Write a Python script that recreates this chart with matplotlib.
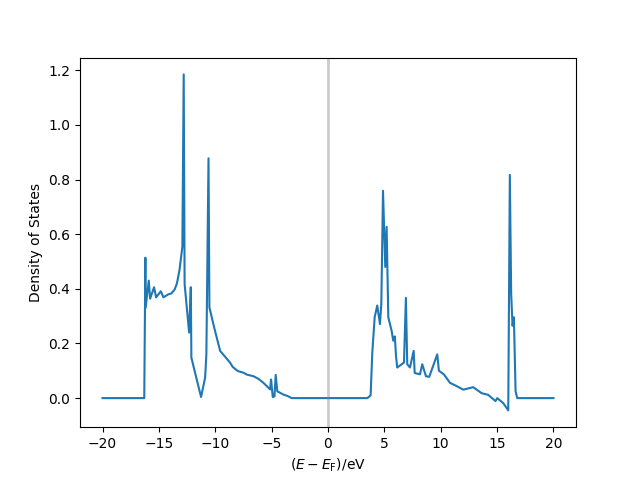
import matplotlib
matplotlib.use("Agg")
import matplotlib.pyplot as plt

# energies relative to the Fermi level (eV) and density of states
energy = [-20.0, -16.3, -16.2, -16.18, -15.9, -15.78, -15.43, -15.25, -14.83, -14.6,
          -14.16, -13.9, -13.6, -13.4, -13.17, -12.92, -12.8, -12.72, -12.32, -12.17,
          -12.12, -11.26, -10.9, -10.79, -10.6, -10.52, -10.1, -9.57, -8.69, -8.45,
          -8.0, -7.5, -7.2, -6.6, -6.15, -5.73, -5.29, -5.14, -5.05, -4.9,
          -4.75, -4.64, -4.5, -3.96, -3.6, -3.22,
          3.49, 3.78, 3.93, 4.14, 4.37, 4.61, 4.73, 4.88, 5.08, 5.2,
          5.35, 5.64, 5.79, 5.93, 6.03, 6.14, 6.74, 6.91, 7.03, 7.27,
          7.6, 7.69, 8.16, 8.36, 8.69, 8.98, 9.69, 9.84, 10.28, 10.82,
          11.41, 12.0, 12.88, 13.63, 14.21, 14.86, 15.01, 15.54, 15.99, 16.13,
          16.25, 16.37, 16.49, 16.64, 16.79, 20.0]
dos = [0.0, 0.0, 0.514, 0.33, 0.43, 0.364, 0.406, 0.369, 0.391, 0.369,
       0.38, 0.383, 0.398, 0.42, 0.47, 0.554, 1.185, 0.418, 0.24, 0.406,
       0.148, 0.004, 0.075, 0.16, 0.878, 0.332, 0.259, 0.173, 0.13, 0.114,
       0.099, 0.093, 0.086, 0.08, 0.07, 0.056, 0.038, 0.032, 0.068, 0.004,
       0.006, 0.085, 0.025, 0.013, 0.008, 0.0,
       0.0, 0.01, 0.167, 0.296, 0.339, 0.271, 0.345, 0.759, 0.48, 0.627,
       0.296, 0.247, 0.21, 0.226, 0.155, 0.112, 0.13, 0.367, 0.124, 0.112,
       0.173, 0.092, 0.087, 0.124, 0.08, 0.078, 0.16, 0.1, 0.087, 0.056,
       0.044, 0.031, 0.04, 0.018, 0.012, -0.011, 0.0, -0.018, -0.045, 0.817,
       0.381, 0.265, 0.296, 0.025, 0.0, 0.0]

fig, ax = plt.subplots(figsize=(6.4, 4.8), dpi=100)
ax.plot(energy, dos)
# Fermi level marker
ax.axvline(0, color='grey', alpha=0.4, linewidth=2)
ax.set_xlabel(r"$(E - E_\mathrm{F})/\mathrm{eV}$")
ax.set_ylabel("Density of States")
fig.savefig("out.png")
